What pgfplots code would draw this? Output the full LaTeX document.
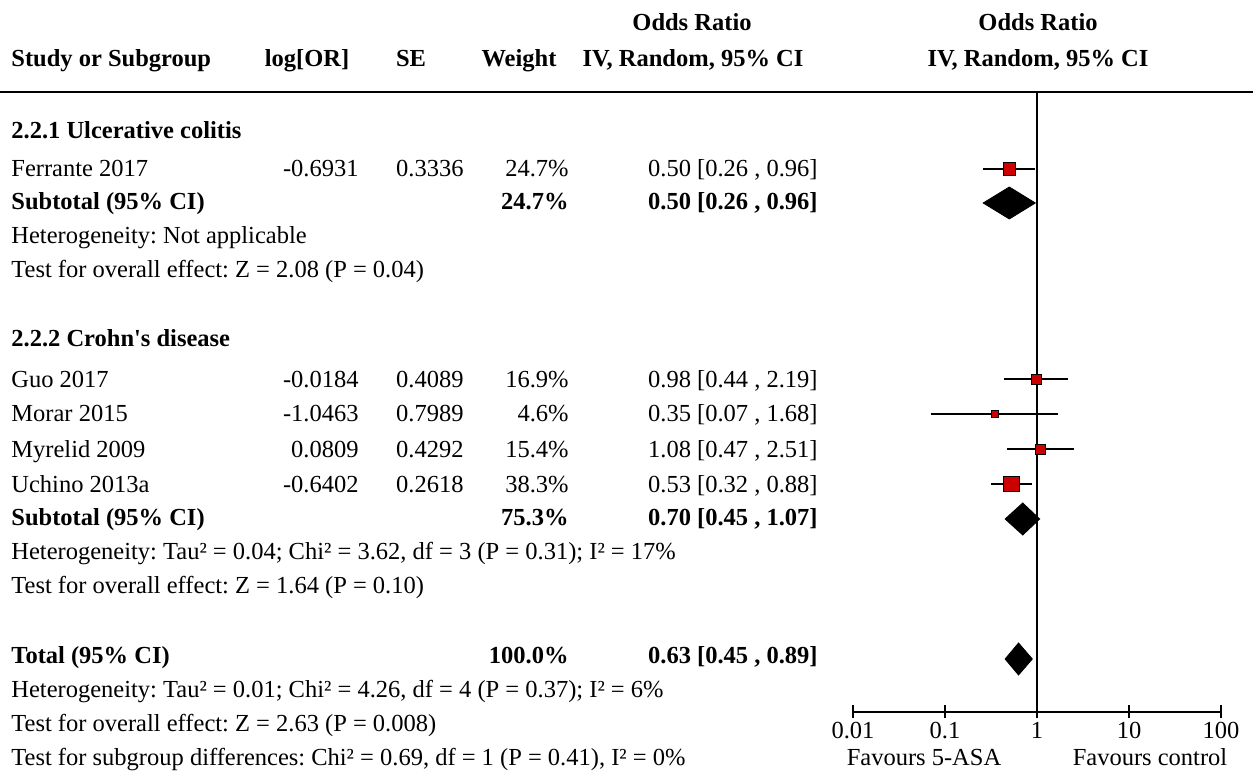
\documentclass[border=0pt]{standalone}
\usepackage{pgfplots}
\pgfplotsset{compat=1.18}
\usepackage{fontspec}
\setmainfont{Liberation Serif}
\definecolor{sqred}{RGB}{204,0,0}
\newcommand{\tl}[2]{\node[anchor=mid west,inner sep=0pt,yshift=-1.5pt] at (axis cs:11,#1) {#2};}
\newcommand{\tr}[3]{\node[anchor=mid east,inner sep=0pt,yshift=-1.5pt] at (axis cs:#1,#2) {#3};}
\newcommand{\tc}[3]{\node[anchor=mid,inner sep=0pt,yshift=-1.5pt] at (axis cs:#1,#2) {#3};}
\begin{document}
\frenchspacing
\fontsize{12.25}{15}\selectfont
\begin{tikzpicture}
\path[use as bounding box] (0pt,0pt) rectangle (626.5pt,385.5pt);
\begin{axis}[at={(0pt,0pt)},anchor=south west,scale only axis,width=626.5pt,height=385.5pt,
  xmin=0,xmax=1253,ymin=0,ymax=771,y dir=reverse,hide axis,clip=false]
\draw[line width=1pt] (axis cs:0,92) -- (axis cs:1253,92);
% headers
\tc{692}{22}{\bfseries Odds Ratio}
\tc{1038}{22}{\bfseries Odds Ratio}
\tl{58}{\bfseries Study or Subgroup}
\tc{307}{58}{\bfseries log[OR]}
\tc{411}{58}{\bfseries SE}
\tc{519}{58}{\bfseries Weight}
\tc{693}{58}{\bfseries IV, Random, 95\% CI}
\tc{1038}{58}{\bfseries IV, Random, 95\% CI}
% group 1
\tl{130}{\bfseries 2.2.1 Ulcerative colitis}
\tl{168}{Ferrante 2017}
\tr{359}{168}{-0.6931}\tr{464}{168}{0.3336}\tr{569}{168}{24.7\%}\tr{818}{168}{0.50 [0.26 , 0.96]}
\tl{201}{\bfseries Subtotal (95\% CI)}
\tr{569}{201}{\bfseries 24.7\%}\tr{818}{201}{\bfseries 0.50 [0.26 , 0.96]}
\tl{235}{Heterogeneity: Not applicable}
\tl{269}{Test for overall effect: Z = 2.08 (P = 0.04)}
% group 2
\tl{338}{\bfseries 2.2.2 Crohn\textquotesingle s disease}
\tl{379}{Guo 2017}
\tr{359}{379}{-0.0184}\tr{464}{379}{0.4089}\tr{569}{379}{16.9\%}\tr{818}{379}{0.98 [0.44 , 2.19]}
\tl{413}{Morar 2015}
\tr{359}{413}{-1.0463}\tr{464}{413}{0.7989}\tr{569}{413}{4.6\%}\tr{818}{413}{0.35 [0.07 , 1.68]}
\tl{449}{Myrelid 2009}
\tr{359}{449}{0.0809}\tr{464}{449}{0.4292}\tr{569}{449}{15.4\%}\tr{818}{449}{1.08 [0.47 , 2.51]}
\tl{484}{Uchino 2013a}
\tr{359}{484}{-0.6402}\tr{464}{484}{0.2618}\tr{569}{484}{38.3\%}\tr{818}{484}{0.53 [0.32 , 0.88]}
\tl{517}{\bfseries Subtotal (95\% CI)}
\tr{569}{517}{\bfseries 75.3\%}\tr{818}{517}{\bfseries 0.70 [0.45 , 1.07]}
\tl{551}{Heterogeneity: Tau² = 0.04; Chi² = 3.62, df = 3 (P = 0.31); I² = 17\%}
\tl{585}{Test for overall effect: Z = 1.64 (P = 0.10)}
% total
\tl{655}{\bfseries Total (95\% CI)}
\tr{569}{655}{\bfseries 100.0\%}\tr{818}{655}{\bfseries 0.63 [0.45 , 0.89]}
\tl{689}{Heterogeneity: Tau² = 0.01; Chi² = 4.26, df = 4 (P = 0.37); I² = 6\%}
\tl{723}{Test for overall effect: Z = 2.63 (P = 0.008)}
\tl{757}{Test for subgroup differences: Chi² = 0.69, df = 1 (P = 0.41), I² = 0\%}
\tc{924}{757}{Favours 5-ASA}
\tc{1150}{757}{Favours control}
\end{axis}
\begin{axis}[at={(426.5pt,29.5pt)},anchor=south west,scale only axis,width=184pt,height=310pt,
  xmode=log,xmin=0.01,xmax=100,ymin=59,ymax=679,clip=false,
  axis x line=bottom,axis y line=none,axis line style={-,line width=1pt},
  xtick={0.01,0.1,1,10,100},xticklabels={0.01,0.1,1,10,100},xminorticks=false,
  tick align=center,major tick length=6.5pt,tick style={black,line width=1pt},
  xticklabel style={font=\fontsize{12.25}{15}\selectfont,inner sep=0pt,yshift=-1.5pt},
  ytick=\empty]
\addplot[black,line width=1pt] coordinates {(1,59) (1,679)};
% CIs
\addplot[black,line width=1pt] coordinates {(0.26,602) (0.96,602)};
\addplot[black,line width=1pt] coordinates {(0.44,392) (2.19,392)};
\addplot[black,line width=1pt] coordinates {(0.07,357) (1.68,357)};
\addplot[black,line width=1pt] coordinates {(0.47,322) (2.51,322)};
\addplot[black,line width=1pt] coordinates {(0.32,287) (0.88,287)};
% squares
\addplot[only marks,mark=square*,mark size=3.1pt,mark options={draw=none,fill=sqred}] coordinates {(0.50,602)};
\addplot[only marks,mark=square*,mark size=2.5pt,mark options={draw=none,fill=sqred}] coordinates {(0.98,392)};
\addplot[only marks,mark=square*,mark size=1.7pt,mark options={draw=none,fill=sqred}] coordinates {(0.35,357)};
\addplot[only marks,mark=square*,mark size=2.5pt,mark options={draw=none,fill=sqred}] coordinates {(1.08,322)};
\addplot[only marks,mark=square*,mark size=3.9pt,mark options={draw=none,fill=sqred}] coordinates {(0.53,287)};
% diamonds
\addplot[fill=black,draw=black] coordinates {(0.26,568) (0.50,584) (0.96,568) (0.50,552)} --cycle;
\addplot[fill=black,draw=black] coordinates {(0.45,252) (0.70,268) (1.07,252) (0.70,236)} --cycle;
\addplot[fill=black,draw=black] coordinates {(0.45,112) (0.63,128) (0.89,112) (0.63,96)} --cycle;
\end{axis}
\end{tikzpicture}
\end{document}
